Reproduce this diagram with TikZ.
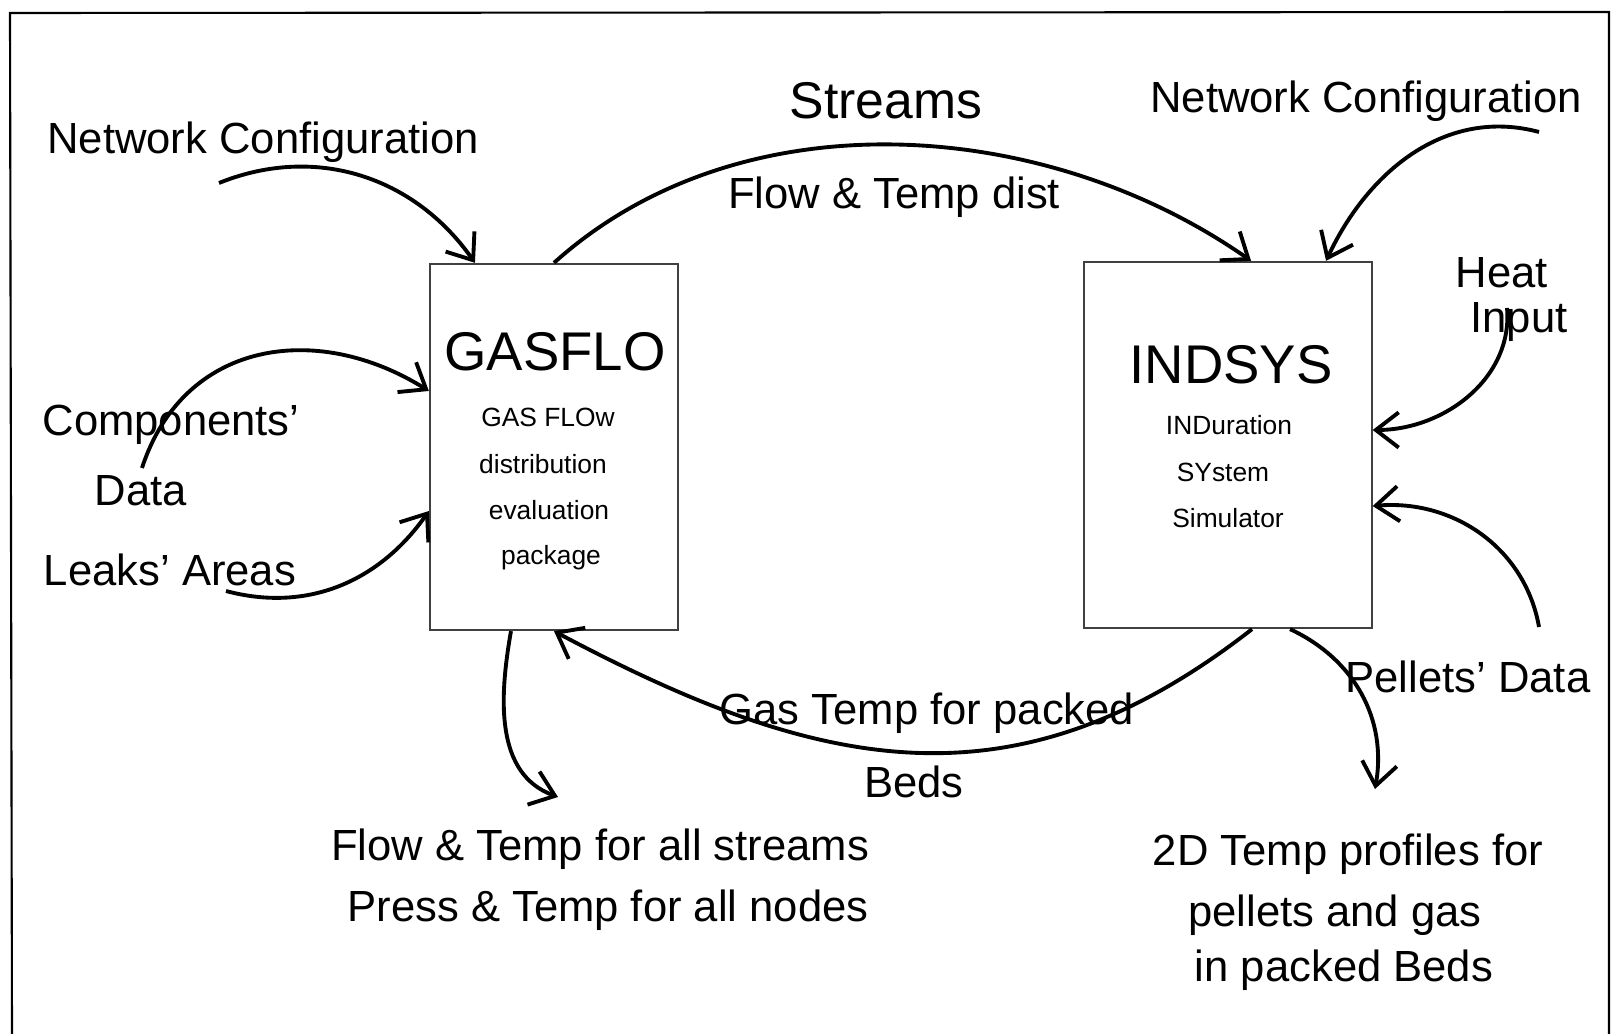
\documentclass[tikz,border=0pt]{standalone}
\usepackage{fontspec}
\setmainfont{Liberation Sans}
\usetikzlibrary{arrows.meta}

\tikzset{
  lbl/.style={font=\fontsize{12.4}{15}\selectfont, inner sep=0pt},
  title/.style={font=\fontsize{15.5}{18}\selectfont, inner sep=0pt},
  small/.style={font=\fontsize{7.5}{9}\selectfont, inner sep=0pt},
  prog/.style={draw=black!75, line width=0.6pt, inner sep=0pt},
  flow/.style={-{Straight Barb[length=6.5pt,width=10pt]}, line width=1.1pt},
}

\begin{document}
\begin{tikzpicture}[x=0.01cm,y=-0.01cm]
    \useasboundingbox (0,0) rectangle (1612,1034);
    \draw[line width=0.6pt] (12,1034) -- (10,13) -- (1609,12) -- (1609,1034);

    % the two programs
    \node[prog, minimum width=2.48cm, minimum height=3.66cm] (gasflo) at (554,447) {};
    \node[prog, minimum width=2.87cm, minimum height=3.66cm] (indsys) at (1228,445) {};

    \node[title] (gasname) at (555,352) {GASFLO};
    \node[small] (g1) at (548,417) {GAS FLOw};
    \node[small] (g2) at (543,464) {distribution};
    \node[small] (g3) at (549,510) {evaluation};
    \node[small] (g4) at (551,558) {package};

    \node[title] (indname) at (1231,365) {INDSYS};
    \node[small] (i1) at (1229,425) {INDuration};
    \node[small] (i2) at (1223,472) {SYstem};
    \node[small] (i3) at (1228,518) {Simulator};

    % labels
    \node[lbl] (netleft) at (263,142) {Network Configuration};
    \node[title, font=\fontsize{14.7}{17}\selectfont] (streams) at (886,101) {Streams};
    \node[lbl] (flowdist) at (894,197) {Flow \& Temp dist};
    \node[lbl] (netright) at (1366,101) {Network Configuration};
    \node[lbl] (heat) at (1502,273) {Heat};
    \node[lbl] (input) at (1519,322) {Input};
    \node[lbl] (comp) at (171,425) {Components'};
    \node[lbl] (data) at (141,491) {Data};
    \node[lbl] (leaks) at (170,570) {Leaks' Areas};
    \node[lbl] (pellets) at (1468,677) {Pellets' Data};
    \node[lbl] (gastemp) at (927,713) {Gas Temp for packed};
    \node[lbl] (beds) at (914,782) {Beds};
    \node[lbl] (flowall) at (600,849) {Flow \& Temp for all streams};
    \node[lbl] (pressall) at (608,910) {Press \& Temp for all nodes};
    \node[lbl] (prof1) at (1348,854) {2D Temp profiles for};
    \node[lbl] (prof2) at (1335,915) {pellets and gas};
    \node[lbl] (prof3) at (1344,970) {in packed Beds};

    % free ends of the arrows
    \coordinate (netleft-out) at (219,183);
    \coordinate (netright-out) at (1539,132);
    \coordinate (heat-out) at (1507,308);
    \coordinate (pellets-out) at (1539,627);
    \coordinate (prof-in) at (1375,789);
    \coordinate (flowall-in) at (558,797);
    \coordinate (comp-out) at (142,468);
    \coordinate (leaks-out) at (226,591);

    \draw[flow] (netleft-out) to[out=22,in=125] ([xshift=-0.79cm]gasflo.north);
    \draw[flow] (gasflo.north) to[out=42,in=145,looseness=0.92] ([xshift=0.23cm]indsys.north);
    \draw[flow] (netright-out) to[out=165,in=65] ([xshift=0.98cm]indsys.north);
    \draw[flow] (heat-out) to[out=-85,in=0] ([yshift=0.15cm]indsys.east);
    \draw[flow] (pellets-out) to[out=100,in=5] ([yshift=-0.61cm]indsys.east);
    \draw[flow] ([xshift=0.62cm]indsys.south) to[out=-25,in=80] (prof-in);
    \draw[flow] ([xshift=0.24cm]indsys.south) to[out=-142,in=-28,looseness=1.1] (gasflo.south);
    \draw[flow] ([xshift=-0.43cm]gasflo.south) to[out=-100,in=160] (flowall-in);
    \draw[flow] (comp-out) to[out=72,in=148,looseness=1.15] ([yshift=0.56cm]gasflo.west);
    \draw[flow] (leaks-out) to[out=-15,in=-125] ([yshift=-0.64cm]gasflo.west);
\end{tikzpicture}
\end{document}
